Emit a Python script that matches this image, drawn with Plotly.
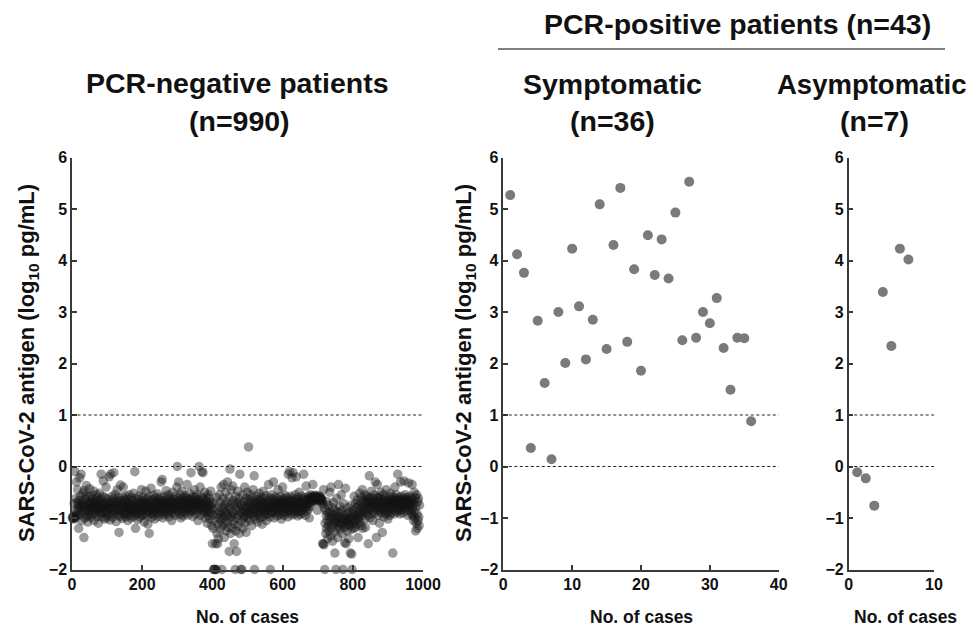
import plotly.graph_objects as go

# ---------------- data ----------------
neg_values = [
    -1.00,-0.98,-1.02,-0.97,-1.00,-0.72,-0.99,-0.10,-1.01,-0.96,
    -0.62,-0.84,-0.30,-0.88,-0.70,-0.45,-0.92,-0.76,-1.20,-0.66,
    -0.81,-0.22,-0.95,-0.58,-0.74,-0.15,-0.86,-1.05,-0.69,-0.77,
    -0.52,-0.73,-0.91,-1.38,-0.47,-0.79,-1.00,-0.64,-0.85,-0.56,
    -0.37,-0.81,-0.96,-0.71,-1.08,-0.75,-0.60,-0.88,-0.92,-0.43,
    -0.68,-0.83,-0.74,-0.99,-0.57,-0.80,-0.70,-0.94,-0.63,-0.86,
    -0.78,-0.48,-1.05,-0.72,-0.82,-0.66,-0.90,-0.76,-0.55,-0.84,
    -0.71,-0.97,-0.61,-0.79,-1.10,-0.68,-0.87,-0.52,-0.74,-0.93,
    -0.80,-0.64,-0.15,-0.89,-0.73,-0.98,-0.58,-0.82,-0.28,-0.77,
    -0.69,-1.02,-0.84,-0.60,-0.91,-0.75,-0.40,-0.86,-1.00,-0.72,
    -0.63,-0.88,-0.79,-0.95,-0.70,-0.20,-0.83,-0.74,-1.04,-0.15,
    -0.81,-0.67,-0.92,-0.58,-0.76,-0.99,-0.71,-0.85,-0.12,-0.62,
    -0.90,-0.77,-0.54,-0.86,-0.73,-1.07,-0.68,-0.80,-0.45,-0.94,
    -0.75,-0.61,-0.88,-1.28,-0.70,-0.83,-0.97,-0.36,-0.79,-0.66,
    -0.86,-0.72,-1.01,-0.59,-0.81,-0.40,-0.93,-0.76,-0.65,-0.89,
    -0.74,-0.98,-0.57,-0.84,-0.70,-0.92,-0.63,-0.80,-1.05,-0.77,
    -0.87,-0.68,-0.79,-0.55,-0.95,-0.73,-0.82,-1.00,-0.61,-0.85,
    -0.76,-0.90,-0.66,-0.83,-0.52,-0.97,-0.71,-0.88,-0.10,-0.79,
    -1.20,-0.74,-0.93,-0.62,-0.86,-0.78,-1.03,-0.69,-0.84,-0.58,
    -0.91,-0.75,-0.81,-0.99,-0.64,-0.87,-0.72,-0.45,-0.95,-0.80,
    -0.70,-0.85,-0.60,-0.93,-0.77,-1.08,-0.66,-0.82,-0.74,-0.48,
    -0.89,-0.71,-0.96,-0.63,-0.80,-1.12,-0.75,-0.87,-0.58,-1.30,
    -0.78,-0.92,-0.67,-0.84,-0.42,-0.73,-0.99,-0.81,-0.65,-0.88,
    -0.76,-0.56,-0.94,-0.70,-0.83,-1.02,-0.69,-0.79,-0.61,-0.86,
    -0.74,-0.90,-0.53,-0.81,-0.68,-0.97,-0.77,-0.64,-0.85,-0.72,
    -0.91,-0.60,-0.79,-0.30,-0.70,-0.87,-0.25,-0.75,-1.00,-0.66,
    -0.82,-0.71,-0.94,-0.58,-0.78,-0.68,-0.89,-0.47,-0.76,-0.84,
    -0.63,-0.92,-0.73,-0.80,-0.55,-0.98,-0.70,-0.86,-0.61,-0.77,
    -0.88,-0.66,-0.75,-1.05,-0.69,-0.83,-0.50,-0.79,-0.72,-0.91,
    -0.64,-0.81,-0.74,-0.95,-0.58,-0.78,-0.68,-0.87,-0.40,0.00,
    -0.72,-0.84,-0.62,-0.30,-0.76,-0.93,-0.66,-0.79,-0.55,-1.00,
    -0.70,-0.81,-0.48,-0.88,-0.73,-0.64,-0.96,-0.75,-0.60,-0.83,
    -0.69,-0.90,-0.57,-0.77,-0.66,-0.85,-0.72,-0.35,-0.80,-0.62,
    -0.94,-0.71,-0.65,-0.82,-0.52,-0.76,-0.88,-0.68,-0.12,-0.74,
    -0.63,-0.86,-0.70,-0.97,-0.59,-0.78,-0.67,-0.84,-0.45,-0.73,
    -0.81,-0.60,-0.92,-0.69,-0.75,-0.55,-0.87,-0.71,-1.05,-0.64,
    -0.78,0.00,-0.66,-0.83,-0.40,-0.74,-0.95,-0.58,-0.80,-0.10,
    -0.69,-0.86,-0.12,-0.76,-0.62,-0.91,-0.73,-0.50,-0.84,-1.00,
    -0.67,-0.79,-0.88,-0.60,-1.10,-0.74,-0.82,-0.55,-0.95,-0.70,
    -0.85,-0.63,-1.02,-0.76,-0.48,-0.90,-0.72,-1.15,-0.81,-1.50,
    -0.95,-1.20,-2.00,-0.70,-2.00,-1.05,-2.00,-0.85,-1.50,-2.00,
    -2.00,-0.60,-1.30,-0.92,-1.50,-1.12,-1.40,-0.78,-1.00,-0.55,
    -0.88,-1.22,-0.70,-1.05,-0.40,-0.95,-2.00,-1.15,-0.80,-0.62,
    -1.00,-0.35,-0.90,-1.38,-0.75,-1.10,-0.85,-0.50,-1.25,-0.95,
    -0.68,-1.08,-0.30,-0.92,-1.18,-0.78,-0.60,-1.65,-1.00,-0.05,
    -0.82,-1.30,-0.45,-0.97,-0.72,-1.20,-0.88,-0.38,-1.05,-0.66,
    -0.93,-1.50,-0.75,-1.12,-2.00,-0.58,-1.25,-0.85,-1.65,-0.70,
    -1.00,-0.48,-1.15,-0.80,-0.95,-0.62,-1.30,-0.15,-0.88,-0.72,
    -2.00,-1.05,-0.76,-2.00,-0.90,-0.55,-1.20,-0.83,-1.00,-0.68,
    -0.95,-0.40,-1.10,-0.77,-0.86,-1.28,-0.62,-0.92,-0.50,-0.80,
    -1.00,-0.70,0.38,-0.88,-0.65,-1.05,-0.78,-0.93,-0.55,-0.84,
    -0.72,-1.15,-0.62,-0.90,-0.80,-0.45,-0.98,-0.74,-0.18,-2.00,
    -0.86,-0.68,-1.02,-0.77,-0.58,-0.92,-0.70,-0.83,-1.08,-0.64,
    -0.79,-0.95,-0.52,-0.88,-0.73,-1.00,-0.66,-0.81,-0.60,-0.90,
    -0.75,-1.12,-0.69,-0.84,-0.48,-0.97,-0.78,-0.62,-0.87,-0.71,
    -0.94,-0.80,-0.57,-1.05,-0.74,-0.85,-0.66,-0.92,-0.76,-0.35,
    -0.83,-0.70,-0.98,-0.61,-2.00,-0.79,-0.88,-0.72,-0.55,-0.91,
    -0.77,-0.64,-0.86,-0.30,-0.73,-1.00,-0.68,-0.82,-0.59,-0.75,
    -0.90,-0.71,-0.84,-0.62,-0.96,-0.78,-0.45,-0.87,-0.70,-0.80,
    -0.66,-0.93,-0.75,-0.58,-0.85,-0.72,-1.02,-0.68,-0.79,-0.40,
    -0.74,-0.88,-0.63,-0.95,-0.70,-0.82,-0.56,-0.77,-0.91,-0.67,
    -0.80,-0.60,-0.86,-0.73,-0.98,-0.15,-0.76,-0.84,-0.65,-0.10,
    -0.89,-0.71,-0.58,-0.81,-0.68,-0.94,-0.22,-0.75,-0.62,-0.12,
    -0.78,-0.86,-0.67,-0.92,-0.73,-0.55,-0.83,-0.70,-0.20,-0.88,
    -0.64,-0.77,-0.96,-0.60,-0.81,-0.72,-0.50,-0.87,-0.69,-0.79,
    -0.93,-0.66,-0.74,-0.85,-0.58,-0.71,-0.90,-0.63,-0.80,-0.15,
    -0.70,-0.82,-0.61,-0.76,-0.95,-0.67,-0.38,-0.79,-0.72,-0.86,
    -0.65,-0.74,-0.58,-0.83,-0.69,-1.00,-0.62,-0.77,-0.55,-0.71,
    -0.60,-0.64,-0.58,-0.66,-0.62,-0.35,-0.61,-0.67,-0.57,-0.63,
    -0.59,-0.65,-0.62,-0.56,-0.68,-0.60,-0.64,-0.58,-0.85,-0.61,
    -0.63,-0.59,-0.66,-0.62,-0.57,-0.64,-0.60,-0.67,-0.61,-0.65,
    -0.62,-0.70,-0.66,-1.50,-0.73,-1.50,-0.45,-1.52,-0.80,-2.00,
    -1.10,-0.85,-1.30,-0.95,-1.20,-0.68,-1.05,-1.40,-0.90,-1.15,
    -0.75,-1.25,-0.98,-0.50,-1.08,-0.88,-1.35,-0.40,-1.00,-1.18,
    -0.92,-1.45,-0.80,-1.12,-0.70,-1.02,-1.28,-0.85,-1.68,-1.10,
    -0.95,-2.00,-1.05,-0.62,-1.20,-0.88,-1.38,-1.00,-0.35,-1.15,
    -0.98,-1.08,-0.78,-1.22,-0.90,-1.02,-0.55,-1.12,-0.85,-1.30,
    -1.00,-2.00,-1.10,-0.72,-1.18,-0.95,-1.48,-1.05,-0.42,-1.15,
    -1.50,-1.02,-0.90,-1.25,-1.08,-0.80,-1.12,-0.98,-1.40,-1.05,
    -0.88,-1.15,-1.68,-1.00,-0.75,-1.22,-1.70,-2.00,-1.05,-0.92,
    -1.10,-0.85,-1.20,-0.58,-1.00,-0.90,-1.18,-0.72,-1.05,-0.95,
    -0.80,-1.12,-0.65,-0.98,-1.38,-0.75,-1.02,-0.88,-0.52,-1.08,
    -0.92,-0.70,-1.15,-0.82,-0.60,-0.95,-0.45,-1.20,-0.78,-0.88,
    -0.66,-0.85,-1.02,-0.55,-0.75,-1.18,-0.70,-0.90,-0.62,-0.80,
    -0.58,-0.95,-0.72,-1.50,-0.65,-0.85,-0.18,-0.76,-1.00,-0.60,
    -0.82,-0.70,-0.48,-0.92,-0.68,-0.78,-1.05,-0.62,-0.86,-0.74,
    -0.55,-0.90,-0.72,-0.30,-0.80,-0.66,-1.38,-0.76,-0.60,-0.35,
    -0.84,-0.70,-0.95,-0.62,-0.78,-1.10,-0.58,-0.86,-0.72,-0.50,
    -0.90,-0.68,-0.80,-1.28,-0.64,-0.76,-0.85,-0.55,-0.98,-0.70,
    -0.62,-0.82,-0.74,-0.92,-0.45,-0.78,-0.66,-0.88,-0.70,-1.02,
    -0.75,-0.60,-0.85,-0.68,-0.95,-0.72,-0.52,-0.80,-0.64,-0.90,
    -0.70,-0.78,-0.58,-1.68,-0.84,-0.66,-0.76,-0.92,-0.62,-0.40,
    -0.80,-0.68,-0.74,-0.55,-0.88,-0.72,-0.64,-0.15,-0.82,-0.70,
    -0.60,-0.86,-0.75,-0.66,-0.92,-0.30,-0.70,-0.78,-0.58,-0.84,
    -0.72,-0.65,-0.90,-0.62,-0.76,-0.28,-0.68,-0.80,-0.55,-0.74,
    -0.70,-0.85,-0.64,-0.78,-0.60,-0.72,-0.95,-0.66,-0.32,-0.80,
    -0.68,-0.74,-0.58,-0.86,-0.70,-0.62,-0.92,-0.76,-0.35,-0.82,
    -0.95,-0.65,-1.05,-0.72,-0.50,-0.88,-1.00,-0.60,-1.25,-0.78,
    -1.10,-0.55,-0.92,-1.20,-0.68,-1.05,-0.62,-0.98,-1.15,-0.75,
]
neg_cases = list(range(1, len(neg_values) + 1))

sym_values = [5.27, 4.12, 3.76, 0.36, 2.83, 1.62, 0.14, 3.00, 2.01, 4.23,
              3.11, 2.08, 2.85, 5.09, 2.28, 4.30, 5.41, 2.42, 3.83, 1.86,
              4.49, 3.72, 4.41, 3.65, 4.93, 2.45, 5.53, 2.50, 3.00, 2.78,
              3.27, 2.30, 1.49, 2.50, 2.49, 0.88]
sym_cases = list(range(1, len(sym_values) + 1))

asym_values = [-0.11, -0.23, -0.76, 3.39, 2.34, 4.23, 4.02]
asym_cases = list(range(1, len(asym_values) + 1))

cutoff_lines = [0, 1]
y_ticks = [-2, -1, 0, 1, 2, 3, 4, 5, 6]
x_ticks_neg = [0, 200, 400, 600, 800, 1000]
x_ticks_sym = [0, 10, 20, 30, 40]
x_ticks_asym = [0, 10]

# ---------------- layout helpers ----------------
W, H = 979, 626
OFF = 8  # the page body places the figure 8px in from the window corner
FONT = "Liberation Sans, Arial, Helvetica, sans-serif"
def px_x(p): return (p - OFF) / W
def px_y(p): return 1 - (p - OFF) / H

ydom = [px_y(569.5), px_y(157.5)]
doms = [[px_x(72), px_x(423)], [px_x(503.3), px_x(778.7)], [px_x(848.7), px_x(934)]]
xranges = [[0, 1000], [0, 40], [0, 10]]
xticks = [x_ticks_neg, x_ticks_sym, x_ticks_asym]

fig = go.Figure()
fig.add_trace(go.Scatter(x=neg_cases, y=neg_values, mode="markers", xaxis="x", yaxis="y",
                         marker=dict(size=9.5, color="rgba(20,20,20,0.42)", line=dict(width=0)),
                         cliponaxis=False, showlegend=False))
fig.add_trace(go.Scatter(x=sym_cases, y=sym_values, mode="markers", xaxis="x2", yaxis="y2",
                         marker=dict(size=10, color="#7a7a7a", line=dict(width=0)),
                         cliponaxis=False, showlegend=False))
fig.add_trace(go.Scatter(x=asym_cases, y=asym_values, mode="markers", xaxis="x3", yaxis="y3",
                         marker=dict(size=10, color="#7a7a7a", line=dict(width=0)),
                         cliponaxis=False, showlegend=False))

axis_common = dict(showline=True, linecolor="#3a3a3a", linewidth=1.5, ticks="inside",
                   tickcolor="#3a3a3a", tickwidth=1.5, ticklen=5, showgrid=False, zeroline=False,
                   automargin=False,
                   tickfont=dict(family=FONT, size=16, color="#111", weight="bold"))

layout = dict(width=W, height=H, margin=dict(l=0, r=0, t=0, b=0, pad=0, autoexpand=False),
              paper_bgcolor="white", plot_bgcolor="white", showlegend=False)
for i in range(3):
    sfx = "" if i == 0 else str(i + 1)
    layout["xaxis" + sfx] = dict(domain=doms[i], range=xranges[i], tickvals=xticks[i],
                                 anchor="y" + sfx, **axis_common)
    layout["yaxis" + sfx] = dict(domain=ydom, range=[-2, 6], tickvals=y_ticks,
                                 anchor="x" + sfx, **axis_common)
fig.update_layout(**layout)

# dashed cutoff lines
shapes = []
for i in range(3):
    sfx = "" if i == 0 else str(i + 1)
    for c in cutoff_lines:
        shapes.append(dict(type="line", xref="x" + sfx, yref="y" + sfx,
                           x0=xranges[i][0], x1=xranges[i][1], y0=c, y1=c,
                           line=dict(color="#222", width=1, dash="3px,2.5px")))
# header underline
shapes.append(dict(type="line", xref="paper", yref="paper", x0=px_x(498), x1=px_x(945),
                   y0=px_y(49), y1=px_y(49), line=dict(color="#555", width=1.5)))
fig.update_layout(shapes=shapes)

ann = []
def add_text(text, x, y, size, angle=0):
    ann.append(dict(text=text, x=px_x(x), y=px_y(y), xref="paper", yref="paper",
                    showarrow=False, xanchor="center", yanchor="middle", textangle=angle,
                    font=dict(family=FONT, size=size, color="#111")))

TS = 28.5
add_text("<b>PCR-negative patients</b>", 237, 83, TS)
add_text("<b>(n=990)</b>", 239, 121, TS)
add_text("<b>Symptomatic</b>", 612, 84, TS)
add_text("<b>(n=36)</b>", 612, 121, TS)
add_text("<b>Asymptomatic</b>", 872, 84, 27.5)
add_text("<b>(n=7)</b>", 874, 121, TS)
add_text("<b>PCR-positive patients (n=43)</b>", 737, 24, TS)

ylab = "<b>SARS-CoV-2 antigen (log<sub>10</sub> pg/mL)</b>"
add_text(ylab, 28, 363, 22, angle=-90)
add_text(ylab, 465, 363, 22, angle=-90)

add_text("<b>No. of cases</b>", 247, 617, 17.5)
add_text("<b>No. of cases</b>", 641, 617, 17.5)
add_text("<b>No. of cases</b>", 905, 617, 17.5)
fig.update_layout(annotations=ann)

fig.write_html("out.html")
